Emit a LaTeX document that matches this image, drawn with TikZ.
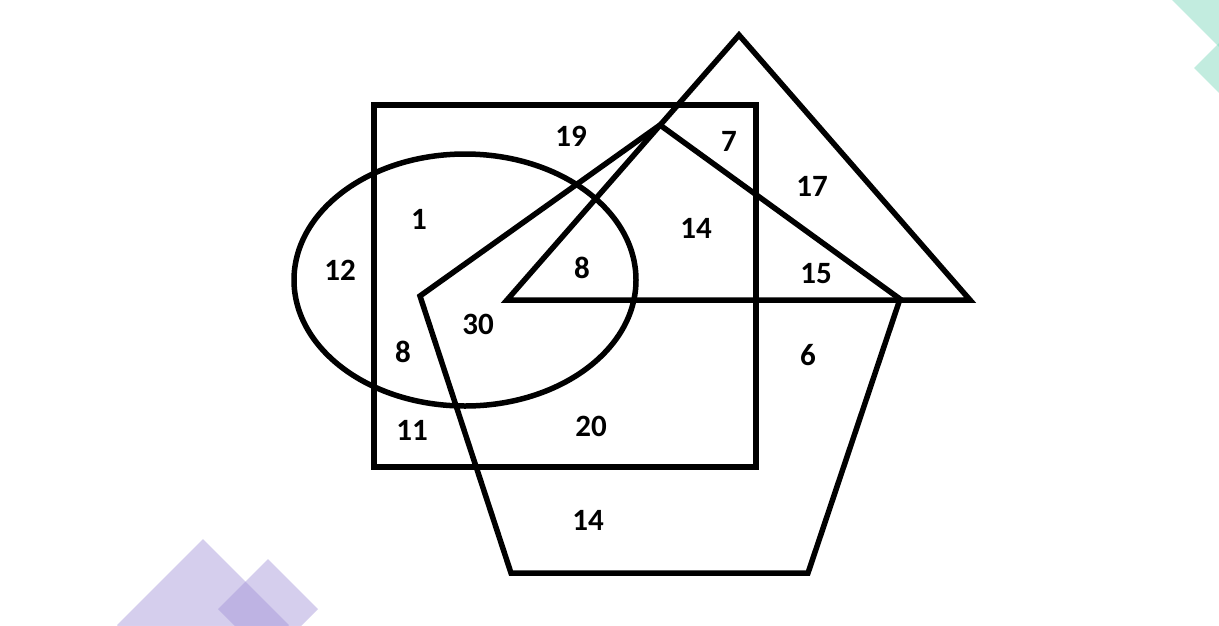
\documentclass[tikz,border=0pt]{standalone}
\usepackage{fontspec}
\setmainfont{Carlito}
\definecolor{lpurple}{RGB}{164,148,217}
\definecolor{lteal}{RGB}{120,215,185}
\tikzset{
  outline/.style={draw=black, line width=5.5pt, line join=miter},
  num/.style={font=\bfseries\fontsize{31}{31}\selectfont, inner sep=0pt},
  deco/.style={fill=#1, fill opacity=0.45, draw=none}
}
\begin{document}
\begin{tikzpicture}[x=1pt,y=-1pt]
\useasboundingbox (0,0) rectangle (1219,625);
\fill[white] (0,0) rectangle (1219,625);
% decorations
\begin{scope}
\clip (0,0) rectangle (1219,625);
\fill[deco=lteal] (1172,0) -- (1219,47) -- (1260,6) -- (1219,-35) -- cycle;
\fill[deco=lteal] (1194,68) -- (1219,43) -- (1244,68) -- (1219,93) -- cycle;
\fill[deco=lpurple] (203,539) -- (289,625) -- (203,711) -- (117,625) -- cycle;
\fill[deco=lpurple] (268,559) -- (318,609) -- (268,659) -- (218,609) -- cycle;
\end{scope}
% shapes
\coordinate (r1) at (374,105);
\coordinate (r2) at (756,467);
\draw[outline] (r1) rectangle (r2);
\draw[outline] (465,280) ellipse [x radius=171, y radius=126];
\coordinate (t1) at (739,35);
\coordinate (t2) at (970,300);
\coordinate (t3) at (507,300);
\draw[outline] (t1) -- (t2) -- (t3) -- cycle;
\coordinate (p1) at (660,125);
\coordinate (p2) at (900,299);
\coordinate (p3) at (808,573);
\coordinate (p4) at (511,573);
\coordinate (p5) at (420,296);
\draw[outline] (p1) -- (p2) -- (p3) -- (p4) -- (p5) -- cycle;
% labels
\node[num] (n19) at (571,136) {19};
\node[num] (n7) at (729,141) {7};
\node[num] (n17) at (812,186) {17};
\node[num] (n1) at (419,219) {1};
\node[num] (n14a) at (696,228) {14};
\node[num] (n12) at (340,270) {12};
\node[num] (n8a) at (582,268) {8};
\node[num] (n15) at (816,274) {15};
\node[num] (n30) at (478,324) {30};
\node[num] (n8b) at (403,352) {8};
\node[num] (n6) at (808,355) {6};
\node[num] (n11) at (412,430) {11};
\node[num] (n20) at (591,426) {20};
\node[num] (n14b) at (588,520) {14};
\end{tikzpicture}
\end{document}
